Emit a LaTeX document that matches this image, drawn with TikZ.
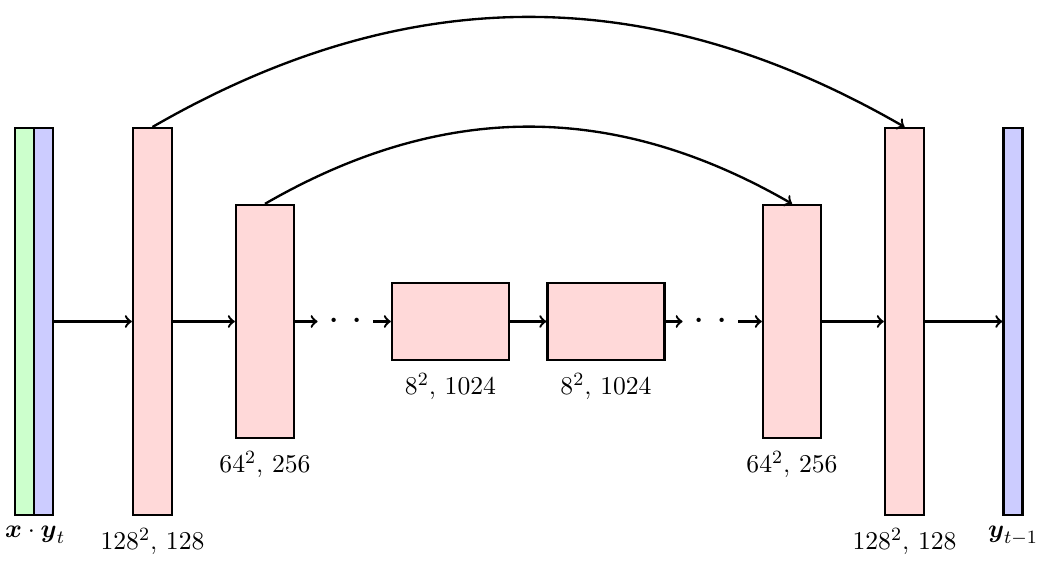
\documentclass[tikz,border=0pt]{standalone}
\usepackage{amsmath}
\usepackage{tikz}
\usetikzlibrary{positioning}
\tikzstyle{inx} = [rectangle, minimum width=0.285cm, minimum height=5.8cm, draw=black, line width=1pt, fill=green!20]
\tikzstyle{iny} = [rectangle, minimum width=0.285cm, minimum height=5.8cm, draw=black, line width=1pt, fill=blue!20]
\tikzstyle{tall} = [rectangle, minimum width=0.585cm, minimum height=5.8cm, draw=black, line width=1pt, fill=red!15]
\tikzstyle{mid} = [rectangle, minimum width=0.87cm, minimum height=3.495cm, draw=black, line width=1pt, fill=red!15]
\tikzstyle{flat} = [rectangle, minimum width=1.755cm, minimum height=1.155cm, draw=black, line width=1pt, fill=red!15]
\tikzstyle{dotsbox} = [inner sep=0pt, minimum width=23.4pt, minimum height=8pt, font=\fontsize{19}{20}\selectfont]
\tikzstyle{arrow} = [line width=1pt,->]
\tikzstyle{dims} = [inner sep=2pt, font=\fontsize{11.3}{13.5}\selectfont]

\begin{document}
\begin{tikzpicture}[x=0.015cm, y=0.015cm]

  \useasboundingbox (0,0) rectangle (1055,564);

  \node (xin) [inx] at (24.5,242.5) {};
  \node (yin) [iny] at (43.5,242.5) {};
  \node (enc1) [tall] at (152.5,242.5) {};
  \node (enc2) [mid] at (265,242.5) {};
  \node (dotl) [dotsbox] at (345.5,242.5) {$\cdot$\hspace{5pt}$\cdot$};
  \node (mida) [flat] at (450.5,242.5) {};
  \node (midb) [flat] at (606,242.5) {};
  \node (dotr) [dotsbox] at (710.5,242.5) {$\cdot$\hspace{5pt}$\cdot$};
  \node (dec2) [mid] at (792,242.5) {};
  \node (dec1) [tall] at (904.5,242.5) {};
  \node (yout) [iny] at (1013,242.5) {};

  \node (lin) [dims, below=2pt of xin.south east] {$\boldsymbol{x}\cdot\boldsymbol{y}_t$};
  \node (lenc1) [dims, below=3pt of enc1] {$128^2$, $128$};
  \node (lenc2) [dims, below=3pt of enc2] {$64^2$, $256$};
  \node (lmida) [dims, below=3pt of mida] {$8^2$, $1024$};
  \node (lmidb) [dims, below=3pt of midb] {$8^2$, $1024$};
  \node (ldec2) [dims, below=3pt of dec2] {$64^2$, $256$};
  \node (ldec1) [dims, below=3pt of dec1] {$128^2$, $128$};
  \node (lout) [dims, below=2pt of yout] {$\boldsymbol{y}_{t-1}$};

  \draw [arrow] (yin) -- (enc1);
  \draw [arrow] (enc1) -- (enc2);
  \draw [arrow] (enc2) -- (dotl);
  \draw [arrow] (dotl) -- (mida);
  \draw [arrow] (mida) -- (midb);
  \draw [arrow] (midb) -- (dotr);
  \draw [arrow] (dotr) -- (dec2);
  \draw [arrow] (dec2) -- (dec1);
  \draw [arrow] (dec1) -- (yout);
  \draw [arrow] (enc1.north) to[out=30, in=150] (dec1.north);
  \draw [arrow] (enc2.north) to[out=30, in=150] (dec2.north);

\end{tikzpicture}
\end{document}
